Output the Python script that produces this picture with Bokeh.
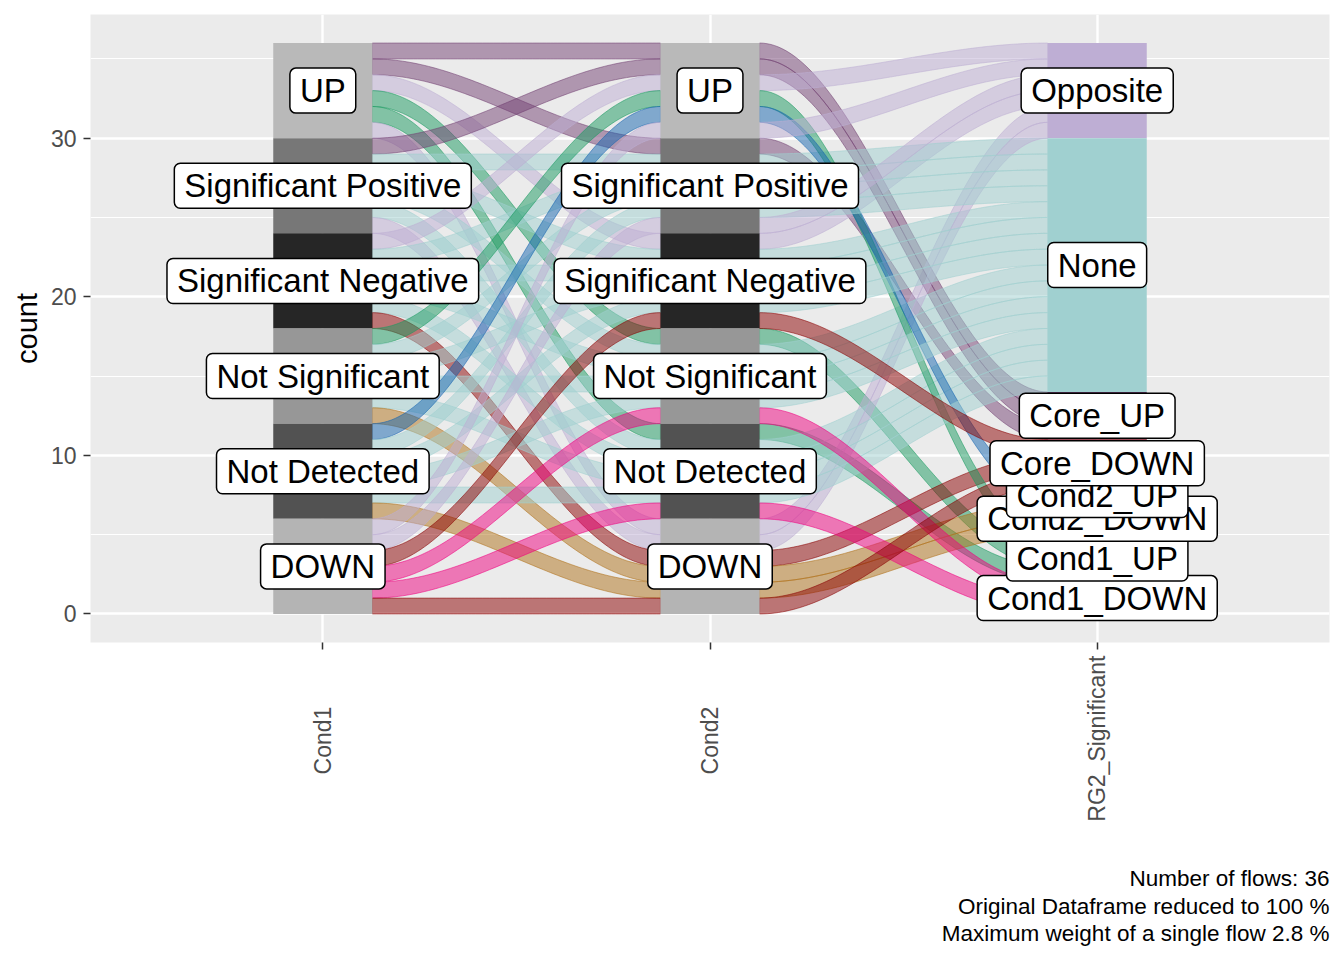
import numpy as np
from bokeh.plotting import figure
from bokeh.models import Label, FixedTicker, Range1d, Title
from bokeh.embed import file_html
from bokeh.resources import INLINE

# ---------------- data ----------------
axis_names = ["Cond1", "Cond2", "RG2_Significant"]
cond_levels = ["UP", "Significant Positive", "Significant Negative",
               "Not Significant", "Not Detected", "DOWN"]
rg2_levels = ["Opposite", "None", "Core_UP", "Core_DOWN",
              "Cond2_UP", "Cond2_DOWN", "Cond1_UP", "Cond1_DOWN"]

U, SP, SN, NS, ND, DN = cond_levels

cond1 = [U, U, U, U, U, U,
         SP, SP, SP, SP, SP, SP,
         SN, SN, SN, SN, SN, SN,
         NS, NS, NS, NS, NS, NS,
         ND, ND, ND, ND, ND, ND,
         DN, DN, DN, DN, DN, DN]
cond2 = [U, SP, SN, NS, ND, DN,
         U, SP, SN, NS, ND, DN,
         U, SP, SN, NS, ND, DN,
         U, SP, SN, NS, ND, DN,
         U, SP, SN, NS, ND, DN,
         U, SP, SN, NS, ND, DN]
rg2 = ["Core_UP", "Core_UP", "Opposite", "Cond1_UP", "Cond1_UP", "Opposite",
       "Core_UP", "None", "None", "None", "None", "Opposite",
       "Opposite", "None", "None", "None", "None", "Core_DOWN",
       "Cond1_UP", "None", "None", "None", "None", "Cond2_DOWN",
       "Cond2_UP", "None", "None", "None", "None", "Cond2_DOWN",
       "Opposite", "Opposite", "Core_DOWN", "Cond1_DOWN", "Cond1_DOWN", "Core_DOWN"]
flow_weight = [1, 1, 1, 1, 1, 1,
               1, 1, 1, 1, 1, 1,
               1, 1, 1, 1, 1, 1,
               1, 1, 1, 1, 1, 1,
               1, 1, 1, 1, 1, 1,
               1, 1, 1, 1, 1, 1]

caption_lines = ["Number of flows: 36",
                 "Original Dataframe reduced to 100 %",
                 "Maximum weight of a single flow 2.8 %"]

# ---------------- styles ----------------
cond_fill = {U: "#B9B9B9", SP: "#777777", SN: "#262626",
             NS: "#979797", ND: "#525252", DN: "#B4B4B4"}
rg2_fill = {"Opposite": "#BEAED4", "None": "#A0D0D0", "Core_UP": "#734173",
            "Core_DOWN": "#8B0000", "Cond2_UP": "#1565B0", "Cond2_DOWN": "#B0711A",
            "Cond1_UP": "#1A9A60", "Cond1_DOWN": "#F0027F"}
FONT = "Liberation Sans"
W = 0.256      # stratum width (axis units)
K = 0.35       # curve control offset
NB = "\u00a0"

# ---------------- geometry ----------------
n = len(cond1)
total = sum(flow_weight)
cols = [cond1, cond2, rg2]
levs = [cond_levels, cond_levels, rg2_levels]
idx = [[levs[a].index(v) for v in cols[a]] for a in range(3)]
orders = [(0, 1, 2), (1, 0, 2), (2, 1, 0)]
lode_top = [[0.0] * n for _ in range(3)]
for a in range(3):
    o = orders[a]
    rows = sorted(range(n), key=lambda r: tuple(idx[k][r] for k in o))
    y = total
    for r in rows:
        lode_top[a][r] = y
        y -= flow_weight[r]

p = figure(width=1344, height=960, x_range=Range1d(0.4, 3.6), y_range=Range1d(-1.8, 37.8),
           output_backend="svg", toolbar_location=None,
           min_border_left=90, min_border_right=15, min_border_top=14, min_border_bottom=318,
           background_fill_color="#EBEBEB", border_fill_color="white")
p.outline_line_color = None

t = np.linspace(0, 1, 80)
s = 3 * t ** 2 - 2 * t ** 3
xs, ys, fc = [], [], []
for r in range(n):
    for a in range(2):
        x0 = a + 1 + W / 2
        x1 = a + 2 - W / 2
        dx = x1 - x0
        bx = ((1 - t) ** 3 * x0 + 3 * (1 - t) ** 2 * t * (x0 + K * dx)
              + 3 * (1 - t) * t ** 2 * (x1 - K * dx) + t ** 3 * x1)
        t0, t1 = lode_top[a][r], lode_top[a + 1][r]
        b0, b1 = t0 - flow_weight[r], t1 - flow_weight[r]
        yt = t0 + (t1 - t0) * s
        yb = b0 + (b1 - b0) * s
        xs.append(list(np.concatenate([bx, bx[::-1]])))
        ys.append(list(np.concatenate([yt, yb[::-1]])))
        fc.append(rg2_fill[rg2[r]])
p.patches(xs, ys, fill_color=fc, fill_alpha=0.5, line_color=fc, line_alpha=0.55, line_width=1)

# strata
ql, qr, qt, qb, qc = [], [], [], [], []
label_pos = []
for a in range(3):
    for lv in levs[a]:
        members = [r for r in range(n) if cols[a][r] == lv]
        if not members:
            continue
        top = max(lode_top[a][r] for r in members)
        bot = min(lode_top[a][r] - flow_weight[r] for r in members)
        ql.append(a + 1 - W / 2); qr.append(a + 1 + W / 2)
        qt.append(top); qb.append(bot)
        qc.append(cond_fill[lv] if a < 2 else rg2_fill[lv])
        label_pos.append((a + 1, (top + bot) / 2, lv))
p.quad(left=ql, right=qr, top=qt, bottom=qb, fill_color=qc, line_color=None)

# axes
for ax in (p.yaxis[0], p.xaxis[0]):
    ax.axis_line_color = None
    ax.major_tick_line_color = "#333333"
    ax.major_tick_line_width = 1.5
    ax.major_tick_out = 7
    ax.major_tick_in = 0
    ax.minor_tick_out = 0
    ax.minor_tick_in = 0
    ax.major_label_text_font = FONT
    ax.major_label_text_font_size = "23px"
    ax.major_label_text_color = "#4D4D4D"
    ax.major_label_standoff = 7
p.yaxis.ticker = FixedTicker(ticks=[0, 10, 20, 30], minor_ticks=[5, 15, 25, 35])
p.xaxis.ticker = FixedTicker(ticks=[1, 2, 3])
# rotated names: no-break-space padding centres the short names like the original,
# and leading padding on the longest one leaves room above the caption
longest = max(len(nm) for nm in axis_names)
overrides = {}
for i, nm in enumerate(axis_names):
    pad = int(round((longest - len(nm)) * 0.8))
    lead = 6 if pad == 0 else 0
    overrides[i + 1] = NB * lead + nm + NB * pad
p.xaxis.major_label_overrides = overrides
p.xaxis.major_label_orientation = np.pi / 2
p.xaxis.major_label_standoff = 6
p.yaxis.axis_label = "count"
p.yaxis.axis_label_text_font = FONT
p.yaxis.axis_label_text_font_size = "29px"
p.yaxis.axis_label_text_font_style = "normal"
p.yaxis.axis_label_text_color = "black"
p.yaxis.axis_label_standoff = 5

p.ygrid.grid_line_color = "white"
p.ygrid.grid_line_width = 2.4
p.ygrid.minor_grid_line_color = "white"
p.ygrid.minor_grid_line_width = 1.2
p.xgrid.grid_line_color = "white"
p.xgrid.grid_line_width = 2.4

# stratum labels (drawn bottom-most stratum first)
for (x, y, txt) in label_pos[::-1]:
    p.add_layout(Label(x=x, y=y, text=txt, text_align="center", text_baseline="middle",
                       text_font=FONT, text_font_size="33px", text_color="black",
                       background_fill_color="white", border_line_color="black",
                       border_line_width=1.5, padding=(10, 4), border_radius=6))

# caption (below, right aligned)
for j, line in enumerate(caption_lines):
    p.add_layout(Title(text=line, align="right", text_font=FONT, text_font_size="22.5px",
                       text_font_style="normal", text_color="black",
                       standoff=(1 if j == 0 else 0), text_line_height=0.9), "below")

open("out.html", "w").write(file_html(p, INLINE))
